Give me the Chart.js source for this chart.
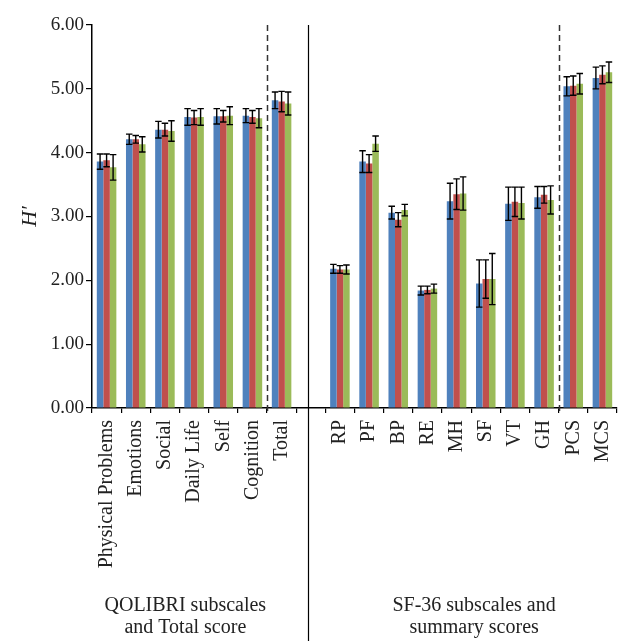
<!DOCTYPE html>
<html>
<head>
<meta charset="utf-8">
<script src="https://cdn.jsdelivr.net/npm/chart.js@4.4.0/dist/chart.umd.min.js"></script>
<style>
  html, body { margin: 0; padding: 0; background: #fff; }
  canvas { display: block; }
</style>
</head>
<body>
<canvas id="chart" width="626" height="641"></canvas>
<script>
// categories (empty slot separates the two groups)
const categories = ["Physical Problems", "Emotions", "Social", "Daily Life", "Self", "Cognition", "Total", "",
  "RP", "PF", "BP", "RE", "MH", "SF", "VT", "GH", "PCS", "MCS"];

const blueValues  = [3.86, 4.21, 4.36, 4.56, 4.57, 4.58, 4.82, null, 2.18, 3.86, 3.06, 1.84, 3.24, 1.95, 3.20, 3.30, 5.04, 5.17];
const blueErrors  = [0.12, 0.08, 0.13, 0.13, 0.12, 0.11, 0.13, null, 0.07, 0.17, 0.10, 0.07, 0.28, 0.37, 0.26, 0.17, 0.15, 0.17];
const redValues   = [3.88, 4.21, 4.36, 4.55, 4.57, 4.56, 4.80, null, 2.17, 3.83, 2.95, 1.85, 3.35, 2.02, 3.23, 3.34, 5.05, 5.22];
const redErrors   = [0.10, 0.06, 0.10, 0.11, 0.09, 0.10, 0.16, null, 0.06, 0.14, 0.11, 0.06, 0.24, 0.30, 0.23, 0.13, 0.15, 0.14];
const greenValues = [3.77, 4.13, 4.34, 4.56, 4.58, 4.54, 4.77, null, 2.17, 4.14, 3.10, 1.87, 3.36, 2.02, 3.21, 3.26, 5.08, 5.26];
const greenErrors = [0.20, 0.12, 0.16, 0.13, 0.14, 0.15, 0.18, null, 0.07, 0.12, 0.09, 0.07, 0.26, 0.40, 0.25, 0.22, 0.16, 0.16];

const yTicks = [0, 1, 2, 3, 4, 5, 6];
const groupTitles = [["QOLIBRI subscales", "and Total score"], ["SF-36 subscales and", "summary scores"]];
const groupCenters = [2.7, 12.6];   // category positions the group titles sit under
const dashedAfter = [5, 15];        // dashed separator after Cognition and after GH
const blankIndex = 7;

const serif = "'Liberation Serif', 'DejaVu Serif', serif";
const errors = [blueErrors, redErrors, greenErrors];

const decorations = {
  id: "decorations",
  afterDatasetsDraw(chart) {
    const { ctx, chartArea, scales } = chart;
    const x = scales.x, y = scales.y;

    // error bars
    ctx.save();
    ctx.strokeStyle = "#000";
    ctx.lineWidth = 1.4;
    chart.data.datasets.forEach((ds, di) => {
      const meta = chart.getDatasetMeta(di);
      meta.data.forEach((bar, i) => {
        const v = ds.data[i], e = errors[di][i];
        if (v == null || e == null) return;
        const top = y.getPixelForValue(v + e);
        const bot = y.getPixelForValue(v - e);
        const half = bar.width / 2;
        ctx.beginPath();
        ctx.moveTo(bar.x, top); ctx.lineTo(bar.x, bot);
        ctx.moveTo(bar.x - half, top); ctx.lineTo(bar.x + half, top);
        ctx.moveTo(bar.x - half, bot); ctx.lineTo(bar.x + half, bot);
        ctx.stroke();
      });
    });
    ctx.restore();

    const step = x.getPixelForValue(1) - x.getPixelForValue(0);

    // dashed separators
    ctx.save();
    ctx.strokeStyle = "#333";
    ctx.lineWidth = 1.5;
    ctx.setLineDash([6, 4]);
    dashedAfter.forEach((i) => {
      const px = Math.round(x.getPixelForValue(i) + step / 2) + 0.5;
      ctx.beginPath();
      ctx.moveTo(px, chartArea.top);
      ctx.lineTo(px, chartArea.bottom + 4);
      ctx.stroke();
    });
    ctx.restore();

    // solid separator between groups
    ctx.save();
    ctx.strokeStyle = "#000";
    ctx.lineWidth = 1.2;
    const sx = Math.round(x.getPixelForValue(blankIndex) - step * 0.1) + 0.5;
    ctx.beginPath();
    ctx.moveTo(sx, chartArea.top);
    ctx.lineTo(sx, chart.height);
    ctx.stroke();
    ctx.restore();

    // group titles
    ctx.save();
    ctx.fillStyle = "#222";
    ctx.font = "20px " + serif;
    ctx.textAlign = "center";
    ctx.textBaseline = "middle";
    groupTitles.forEach((lines, g) => {
      const cx = x.getPixelForValue(groupCenters[g]);
      lines.forEach((t, li) => ctx.fillText(t, cx, 606 + li * 22));
    });
    ctx.restore();

    // y-axis title
    ctx.save();
    ctx.fillStyle = "#222";
    ctx.font = "italic 22px " + serif;
    ctx.textAlign = "center";
    ctx.textBaseline = "middle";
    ctx.translate(30, (chartArea.top + chartArea.bottom) / 2);
    ctx.rotate(-Math.PI / 2);
    ctx.fillText("H\u2032", 0, 0);
    ctx.restore();
  },
};

new Chart(document.getElementById("chart"), {
  type: "bar",
  data: {
    labels: categories,
    datasets: [
      { label: "Series 1", data: blueValues, backgroundColor: "#4F81BD" },
      { label: "Series 2", data: redValues, backgroundColor: "#C0504D" },
      { label: "Series 3", data: greenValues, backgroundColor: "#9BBB59" },
    ],
  },
  options: {
    responsive: false,
    animation: false,
    layout: { padding: { top: 25, right: 9, left: 0, bottom: 0 } },
    datasets: { bar: { categoryPercentage: 0.67, barPercentage: 1.0 } },
    plugins: { legend: { display: false }, tooltip: { enabled: false } },
    scales: {
      x: {
        grid: { display: true, offset: true, drawOnChartArea: false, drawTicks: true, tickLength: 5, color: "#000", lineWidth: 1.2 },
        border: { display: true, color: "#000", width: 1.5 },
        ticks: {
          autoSkip: false, minRotation: 90, maxRotation: 90, padding: 7,
          color: "#222", font: { family: serif, size: 20 },
        },
        afterFit(scale) {
          scale.height = 641 - 408;
          scale.paddingLeft = 0;
          scale.paddingRight = 0;
        },
      },
      y: {
        min: 0, max: 6,
        afterBuildTicks(scale) { scale.ticks = yTicks.map((v) => ({ value: v })); },
        grid: { display: true, drawOnChartArea: false, drawTicks: true, tickLength: 6, color: "#000", lineWidth: 1.2 },
        border: { display: true, color: "#000", width: 1.5 },
        ticks: {
          padding: 2, color: "#222", font: { family: serif, size: 19 },
          callback: (v) => Number(v).toFixed(2),
        },
        afterFit(scale) { scale.width = 92; },
      },
    },
  },
  plugins: [decorations],
});
</script>
</body>
</html>
